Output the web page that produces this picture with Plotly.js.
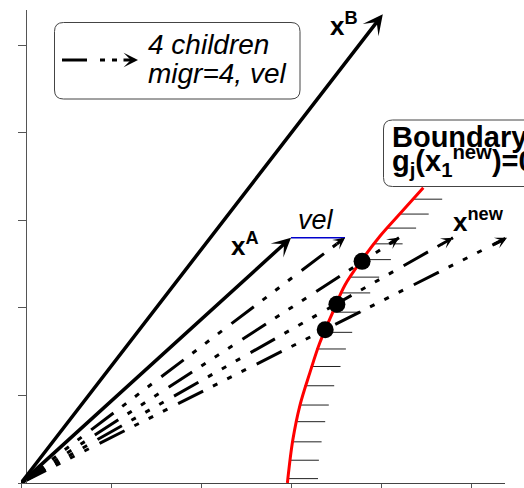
<!DOCTYPE html>
<html><head><meta charset="utf-8">
<script src="https://cdn.plot.ly/plotly-3.0.1.min.js"></script>
<style>html,body{margin:0;padding:0;background:#fff;}#chart{width:524px;height:488px;}</style>
</head><body><div id="chart"></div>
<script>
// ---- data ----
const vecB = [4.02, 5.35];            // x^B
const vecA = [3.0, 2.8];              // x^A
const velEnd = [3.6, 2.8];            // x^A + vel
const childX = [3.6, 4.2, 4.8, 5.4];  // 4 children tips
const childY = [2.8, 2.8, 2.8, 2.8];
const hitX = [3.79, 3.51, 3.38];      // children crossing the boundary
const hitY = [2.53, 2.04, 1.75];
const boundX = [2.96, 3.02, 3.10, 3.21, 3.32, 3.46, 3.60, 3.79, 3.99, 4.18, 4.47];
const boundY = [0.0, 0.49, 0.89, 1.26, 1.60, 1.94, 2.26, 2.55, 2.82, 3.04, 3.37];
const hatchY  = [0.05, 0.26, 0.47, 0.70, 0.89, 1.11, 1.33, 1.53, 1.72, 1.95, 2.17, 2.35, 2.55, 2.73, 2.91, 3.07, 3.24];
const hatchX0 = [2.97, 2.98, 3.01, 3.05, 3.09, 3.15, 3.22, 3.28, 3.35, 3.45, 3.55, 3.65, 3.78, 3.91, 4.06, 4.20, 4.35];
const hatchLen = 0.33;
const xTicks = [0, 1, 2, 3, 4, 5];
const yTicks = [0, 1, 2, 3, 4, 5];

// ---- layout helpers (pixel -> paper) ----
const W = 524, H = 488, ML = 21, MR = 19, MT = 10, MB = 5;
const PW = W - ML - MR, PH = H - MT - MB;
const PX = p => (p - ML) / PW;
const PY = p => (H - MB - p) / PH;
function rrect(x0, y0, x1, y1, r) {
  const X = PX, Y = PY;
  return `M${X(x0+r)},${Y(y0)} L${X(x1-r)},${Y(y0)} Q${X(x1)},${Y(y0)} ${X(x1)},${Y(y0+r)} ` +
         `L${X(x1)},${Y(y1-r)} Q${X(x1)},${Y(y1)} ${X(x1-r)},${Y(y1)} L${X(x0+r)},${Y(y1)} ` +
         `Q${X(x0)},${Y(y1)} ${X(x0)},${Y(y1-r)} L${X(x0)},${Y(y0+r)} Q${X(x0)},${Y(y0)} ${X(x0+r)},${Y(y0)} Z`;
}
const FONT = 'Arial, "Liberation Sans", sans-serif';
const DASH = '28px,11px,5px,11px,5px,11px,5px,12px';

const traces = [];
// hatching
const hx = [], hy = [];
hatchY.forEach((y, i) => { hx.push(hatchX0[i], hatchX0[i] + hatchLen, null); hy.push(y, y, null); });
traces.push({x: hx, y: hy, mode: 'lines', line: {color: '#222', width: 1}, hoverinfo: 'skip'});
// boundary
traces.push({x: boundX, y: boundY, mode: 'lines', line: {color: '#ff0000', width: 3, shape: 'spline'}});
// children dashed lines
childX.forEach((cx, i) => {
  traces.push({x: [0, cx], y: [0, childY[i]], mode: 'lines', line: {color: '#000', width: 3, dash: DASH}});
});
// vel
traces.push({x: [vecA[0], velEnd[0]], y: [vecA[1], velEnd[1]], mode: 'lines', line: {color: '#0000cc', width: 1.5}});
// hit points
traces.push({x: hitX, y: hitY, mode: 'markers', marker: {color: '#000', size: 17}, cliponaxis: false});

const ann = [];
function arrow(x, y, ax, ay, w, s) {
  ann.push({x, y, ax, ay, xref: 'x', yref: 'y', axref: 'x', ayref: 'y', text: '', showarrow: true,
            arrowhead: 3, arrowwidth: w, arrowsize: s, arrowcolor: '#000'});
}
arrow(vecB[0], vecB[1], 0, 0, 3.5, 0.95);
arrow(vecA[0], vecA[1], 0, 0, 3.5, 0.9);
childX.forEach((cx, i) => arrow(cx, childY[i], cx * 0.97, childY[i] * 0.97, 3, 0.65));

function label(text, px, py, size, style, yanchor) {
  ann.push({x: PX(px), y: PY(py), xref: 'paper', yref: 'paper', text, showarrow: false,
            xanchor: 'left', yanchor: yanchor, borderpad: 1,
            font: {family: FONT, size, color: '#000', style: style.italic ? 'italic' : 'normal',
                   weight: style.bold ? 'bold' : 'normal'}});
}
label('4 children', 146, 44.3, 28, {italic: true}, 'middle');
label('migr=4, vel', 146, 73.3, 28, {italic: true}, 'middle');
label('vel', 296, 219.6, 27, {italic: true}, 'middle');
label('x<sup>A</sup>', 229, 262.5, 26, {bold: true}, 'bottom');
label('x<sup>B</sup>', 328, 42.5, 26, {bold: true}, 'bottom');
label('x<sup>new</sup>', 451, 239, 26, {bold: true}, 'bottom');
label('Boundary', 390, 155, 29, {bold: true}, 'bottom');
label('g<sub>j</sub>(x<sub>1</sub><sup>new</sup>)=0', 390, 139, 29, {bold: true}, 'top');

// legend sample arrowhead
ann.push({x: PX(138), y: PY(60), xref: 'paper', yref: 'paper', ax: -16, ay: 0, text: '', showarrow: true,
          arrowhead: 3, arrowwidth: 3, arrowsize: 0.8, arrowcolor: '#000'});

const shapes = [
  {type: 'path', xref: 'paper', yref: 'paper', path: rrect(54.5, 22.5, 300, 99, 9), line: {color: '#444', width: 1}, fillcolor: 'rgba(255,255,255,0)', layer: 'above'},
  {type: 'path', xref: 'paper', yref: 'paper', path: rrect(383.5, 120, 560, 186.5, 9), line: {color: '#444', width: 1}, fillcolor: '#fff', layer: 'above'},
  {type: 'line', xref: 'paper', yref: 'paper', x0: PX(62), x1: PX(87), y0: PY(60), y1: PY(60), line: {color: '#000', width: 3}},
  {type: 'line', xref: 'paper', yref: 'paper', x0: PX(100), x1: PX(105), y0: PY(60), y1: PY(60), line: {color: '#000', width: 3}},
  {type: 'line', xref: 'paper', yref: 'paper', x0: PX(112), x1: PX(117), y0: PY(60), y1: PY(60), line: {color: '#000', width: 3}}
];

const layout = {
  width: W, height: H, margin: {l: ML, r: MR, t: MT, b: MB},
  paper_bgcolor: '#fff', plot_bgcolor: '#fff', showlegend: false,
  font: {family: FONT},
  xaxis: {range: [0, PW / 90], tickvals: xTicks, showticklabels: false, ticks: 'outside', ticklen: 5,
          tickcolor: '#555', showline: true, linecolor: '#444', linewidth: 1, showgrid: false, zeroline: false},
  yaxis: {range: [0, PH / 87.6], tickvals: yTicks, showticklabels: false, ticks: 'outside', ticklen: 8,
          tickcolor: '#555', showline: true, linecolor: '#555', linewidth: 1, showgrid: false, zeroline: false,
          anchor: 'free', position: 5 / PW},
  annotations: ann, shapes: shapes
};
Plotly.newPlot('chart', traces, layout, {staticPlot: true, displayModeBar: false});
</script></body></html>
